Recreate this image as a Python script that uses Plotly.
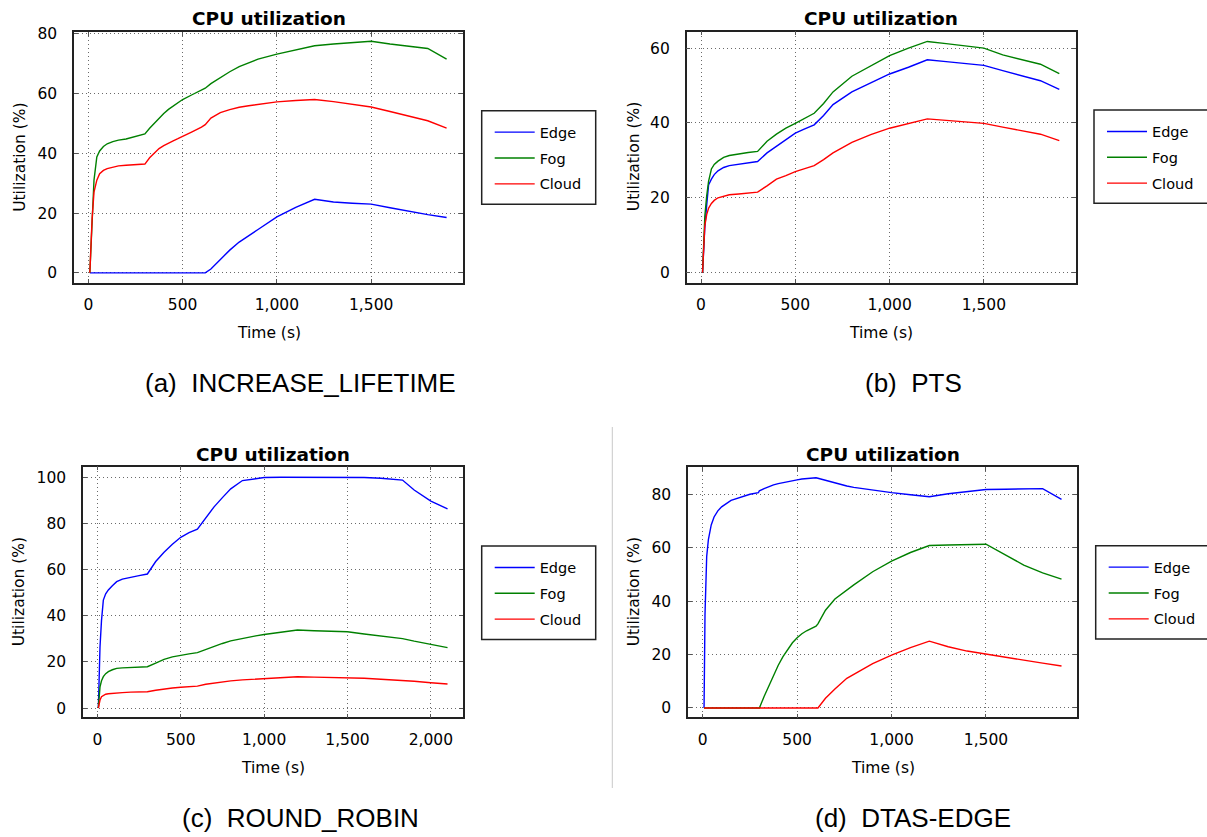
import plotly.graph_objects as go

W, H = 1207, 837

SERIES = ["Edge", "Fog", "Cloud"]
COLORS = {"Edge": "#0000ff", "Fog": "#008000", "Cloud": "#ff0000"}

# ---------------- (a) INCREASE_LIFETIME ----------------
a_time = [8, 20, 30, 45, 60, 80, 100, 130, 160, 200, 250, 300, 325, 350, 375, 400, 425, 450, 475, 500, 550, 600,
          620, 650, 700, 750, 800, 850, 900, 1000, 1100, 1200, 1300, 1400, 1500, 1600, 1700, 1800, 1900]
a_edge = [0, 0, 0, 0, 0, 0, 0, 0, 0, 0, 0, 0, 0, 0, 0, 0, 0, 0, 0, 0, 0, 0,
          0, 1.3, 4.5, 7.6, 10.3, 12.5, 14.5, 18.7, 21.9, 24.6, 23.7, 23.3, 23.0, 21.8, 20.6, 19.5, 18.5]
a_fog = [0, 20, 31, 38.8, 40.8, 42.3, 43.2, 43.9, 44.4, 44.8, 45.6, 46.5, 48.4, 50.1, 51.8, 53.3, 54.7, 55.9, 57.0, 58.0, 59.6, 61.0,
         61.8, 63.3, 65.4, 67.3, 69.0, 70.3, 71.5, 73.2, 74.7, 76.0, 76.6, 77.1, 77.5, 76.6, 75.8, 75.1, 71.5]
a_cloud = [0, 18, 27, 31, 33.2, 34.3, 34.9, 35.4, 35.8, 36.0, 36.2, 36.4, 38.5, 40.2, 41.6, 42.6, 43.5, 44.2, 44.9, 45.6, 47.2, 48.8,
           49.6, 51.8, 53.6, 54.6, 55.4, 55.9, 56.3, 57.2, 57.7, 58.0, 57.3, 56.5, 55.5, 54.0, 52.4, 50.9, 48.4]

# ---------------- (b) PTS ----------------
b_time = [8, 20, 30, 40, 55, 70, 90, 120, 150, 200, 250, 300, 350, 400, 450, 500, 550, 600,
          650, 700, 800, 900, 1000, 1100, 1200, 1300, 1400, 1500, 1600, 1700, 1800, 1900]
b_edge = [0, 12, 18, 23.4, 25.0, 26.2, 27.2, 28.1, 28.6, 29.0, 29.3, 29.7, 32.0, 33.8, 35.6, 37.3, 38.4, 39.5,
          42.0, 44.9, 48.3, 50.7, 53.1, 54.9, 56.9, 56.4, 55.9, 55.4, 54.0, 52.6, 51.3, 49.0]
b_fog = [0, 15, 20.5, 24.4, 27.7, 28.9, 29.8, 30.8, 31.3, 31.8, 32.1, 32.4, 35.1, 37.0, 38.6, 39.9, 41.3, 42.6,
         45.2, 48.3, 52.5, 55.2, 58.0, 60.0, 61.8, 61.2, 60.6, 60.0, 58.2, 56.9, 55.7, 53.2]
b_cloud = [0, 12.5, 15.5, 17.2, 18.5, 19.3, 20.0, 20.5, 20.8, 21.0, 21.2, 21.5, 23.2, 25.0, 25.9, 27.0, 27.8, 28.6,
           30.2, 32.0, 34.8, 36.9, 38.6, 39.9, 41.1, 40.7, 40.3, 39.9, 38.9, 37.9, 37.0, 35.3]

# ---------------- (c) ROUND_ROBIN ----------------
c_time = [6, 16, 25, 36, 50, 66, 90, 116, 150, 200, 250, 300, 350, 400, 450, 500, 550, 600,
          650, 700, 750, 800, 870, 950, 1000, 1100, 1200, 1300, 1400, 1500, 1600, 1700, 1830, 1900, 2000, 2100]
c_edge = [0, 26.6, 38, 46.8, 49.5, 51.2, 53.0, 54.8, 55.9, 56.8, 57.4, 58.1, 63.5, 67.5, 71.0, 74.0, 76.0, 77.5,
          82.5, 87.2, 91.2, 95.0, 98.6, 99.6, 99.9, 100, 100, 100, 100, 100, 99.9, 99.6, 98.8, 94.5, 89.7, 86.3]
c_fog = [0, 9.2, 11.8, 13.6, 14.9, 15.8, 16.6, 17.2, 17.4, 17.6, 17.8, 17.9, 19.5, 21.1, 22.2, 23.0, 23.5, 24.0,
         25.4, 26.8, 28.0, 29.1, 30.2, 31.3, 31.9, 32.9, 33.8, 33.5, 33.3, 33.1, 32.1, 31.2, 30.1, 29.0, 27.6, 26.2]
c_cloud = [0, 3.5, 4.9, 5.5, 6.0, 6.2, 6.4, 6.6, 6.7, 6.9, 7.0, 7.1, 7.7, 8.3, 8.7, 9.0, 9.3, 9.5,
           10.3, 10.9, 11.4, 11.8, 12.2, 12.6, 12.9, 13.3, 13.6, 13.4, 13.3, 13.2, 12.9, 12.5, 12.1, 11.6, 11.0, 10.4]

# ---------------- (d) DTAS-EDGE ----------------
d_time = [7, 12, 21, 30, 45, 60, 80, 100, 150, 200, 250, 295, 300, 325, 350, 375, 400, 425, 450, 475,
          500, 525, 550, 575, 600, 610, 650, 700, 763, 800, 900, 1000, 1100, 1200, 1300, 1400, 1500,
          1600, 1700, 1800, 1900]
d_edge = [0, 35, 56.7, 63, 68.5, 71.5, 73.8, 75.3, 77.7, 79.0, 80.0, 80.6, 81.3, 82.1, 82.9, 83.5, 84.0, 84.4, 84.8, 85.1,
          85.4, 85.7, 85.9, 86.1, 86.2, 86.0, 85.2, 84.2, 83.1, 82.6, 81.5, 80.6, 79.8, 79.1, 80.2, 81.1, 81.8,
          81.9, 82.0, 82.1, 78.1]
d_fog = [0, 0, 0, 0, 0, 0, 0, 0, 0, 0, 0, 0, 0, 4.3, 8.3, 12.4, 16.0, 19.2, 22.0, 24.4,
         26.3, 27.8, 28.9, 29.8, 30.6, 31.5, 36.6, 40.8, 44.2, 46.1, 51.0, 55.0, 58.2, 60.8, 61.0, 61.1, 61.3,
         57.4, 53.5, 50.6, 48.2]
d_cloud = [0, 0, 0, 0, 0, 0, 0, 0, 0, 0, 0, 0, 0, 0, 0, 0, 0, 0, 0, 0,
           0, 0, 0, 0, 0, 0, 3.6, 7.1, 11.1, 12.6, 16.6, 19.8, 22.6, 25.0, 22.9, 21.3, 20.1,
           19.1, 17.9, 16.8, 15.7]

CHART_TITLE = "CPU utilization"
X_TITLE = "Time (s)"
Y_TITLE = "Utilization (%)"

panels = [
    dict(key="a", caption="(a)\u00a0\u00a0INCREASE_LIFETIME", time=a_time,
         data={"Edge": a_edge, "Fog": a_fog, "Cloud": a_cloud},
         xticks=[0, 500, 1000, 1500], yticks=[0, 20, 40, 60, 80],
         xr=[-76, 1987], yr=[-3.4, 80.6],
         box=(74, 463, 32, 283), legbox=(481.7, 595.7, 110.7, 204.3), title_y=18.3,
         ytitle_x=19.3, xtitle_y=333.3, cap=(300, 383)),
    dict(key="b", caption="(b)\u00a0\u00a0PTS", time=b_time,
         data={"Edge": b_edge, "Fog": b_fog, "Cloud": b_cloud},
         xticks=[0, 500, 1000, 1500], yticks=[0, 20, 40, 60],
         xr=[-76, 1987], yr=[-2.7, 64.4],
         box=(686.7, 1075.7, 31.7, 282.7), legbox=(1094, 1209, 110, 203.3), title_y=18.3,
         ytitle_x=634, xtitle_y=333, cap=(913, 383)),
    dict(key="c", caption="(c)\u00a0\u00a0ROUND_ROBIN", time=c_time,
         data={"Edge": c_edge, "Fog": c_fog, "Cloud": c_cloud},
         xticks=[0, 500, 1000, 1500, 2000], yticks=[0, 20, 40, 60, 80, 100],
         xr=[-86, 2191], yr=[-4.0, 104.6],
         box=(83, 462.7, 466.7, 717.3), legbox=(481.7, 595.7, 546, 639.5), title_y=454,
         ytitle_x=19.3, xtitle_y=768, cap=(300.5, 818)),
    dict(key="d", caption="(d)\u00a0\u00a0DTAS-EDGE", time=d_time,
         data={"Edge": d_edge, "Fog": d_fog, "Cloud": d_cloud},
         xticks=[0, 500, 1000, 1500], yticks=[0, 20, 40, 60, 80],
         xr=[-78, 1982], yr=[-3.5, 90.1],
         box=(688, 1077, 467.3, 717.3), legbox=(1095.7, 1210, 545.7, 639), title_y=454,
         ytitle_x=634, xtitle_y=768, cap=(913, 818)),
]

TICK_FONT = dict(family="DejaVu Sans", size=15.5, color="#000000")

fig = go.Figure()
annotations = []
shapes = []

for i, p in enumerate(panels):
    n = "" if i == 0 else str(i + 1)
    xa, ya = "x" + n, "y" + n
    leg = "legend" if i == 0 else "legend" + str(i + 1)
    for s in SERIES:
        fig.add_trace(go.Scatter(
            x=p["time"], y=p["data"][s], mode="lines", name=s,
            line=dict(color=COLORS[s], width=1.4),
            xaxis=xa, yaxis=ya, legend=leg, legendgroup=p["key"] + s,
        ))
    l, r, t, b = p["box"]
    common = dict(showline=True, linecolor="#222222", linewidth=1.5, mirror="allticks",
                  ticks="inside", ticklen=4, tickcolor="#555555", tickwidth=1,
                  showgrid=True, gridcolor="#6a6a6a", griddash="1px,3px", gridwidth=1,
                  zeroline=False, tickfont=TICK_FONT, automargin=False)
    fig.layout["xaxis" + n] = dict(
        domain=[l / W, r / W], anchor=ya, range=p["xr"], tickvals=p["xticks"],
        tickformat=",d", ticklabelstandoff=7, **common)
    fig.layout["yaxis" + n] = dict(
        domain=[1 - b / H, 1 - t / H], anchor=xa, range=p["yr"], tickvals=p["yticks"],
        ticklabelstandoff=12, **common)
    # legend: native legend inside a framed box
    bl, br, bt, bb = p["legbox"]
    shapes.append(dict(type="rect", xref="paper", yref="paper",
                       x0=bl / W, x1=br / W, y0=1 - bt / H, y1=1 - bb / H,
                       line=dict(color="#222222", width=1.5), fillcolor="rgba(0,0,0,0)", layer="above"))
    fig.layout[leg] = dict(
        x=(bl + 8) / W, y=1 - (bt + 5.5) / H, xanchor="left", yanchor="top",
        borderwidth=0, bgcolor="rgba(0,0,0,0)",
        font=dict(family="DejaVu Sans", size=14.5, color="#000000"),
        itemwidth=40, tracegroupgap=4, traceorder="grouped",
    )
    annotations.append(dict(
        text="<b>" + CHART_TITLE + "</b>", xref="paper", yref="paper",
        x=(l + r) / 2 / W, y=1 - p["title_y"] / H, xanchor="center", yanchor="middle",
        showarrow=False, font=dict(family="DejaVu Sans", size=18.5, color="#000000")))
    annotations.append(dict(
        text=X_TITLE, xref="paper", yref="paper",
        x=(l + r) / 2 / W, y=1 - p["xtitle_y"] / H, xanchor="center", yanchor="middle",
        showarrow=False, font=TICK_FONT))
    annotations.append(dict(
        text=Y_TITLE, xref="paper", yref="paper", textangle=-90,
        x=p["ytitle_x"] / W, y=1 - (t + b) / 2 / H, xanchor="center", yanchor="middle",
        showarrow=False, font=TICK_FONT))
    cx, cy = p["cap"]
    annotations.append(dict(
        text=p["caption"], xref="paper", yref="paper",
        x=cx / W, y=1 - cy / H, xanchor="center", yanchor="middle",
        showarrow=False, font=dict(family="Liberation Sans", size=26, color="#000000")))

shapes.append(dict(type="line", xref="paper", yref="paper",
                   x0=612.3 / W, x1=612.3 / W, y0=1 - 427 / H, y1=1 - 788 / H,
                   line=dict(color="#c8c8c8", width=1)))

fig.update_layout(
    width=W, height=H, margin=dict(l=0, r=0, t=0, b=0, autoexpand=False),
    paper_bgcolor="#ffffff", plot_bgcolor="#ffffff",
    annotations=annotations, shapes=shapes, showlegend=True,
)

fig.write_html("out.html", config={"displayModeBar": False})
